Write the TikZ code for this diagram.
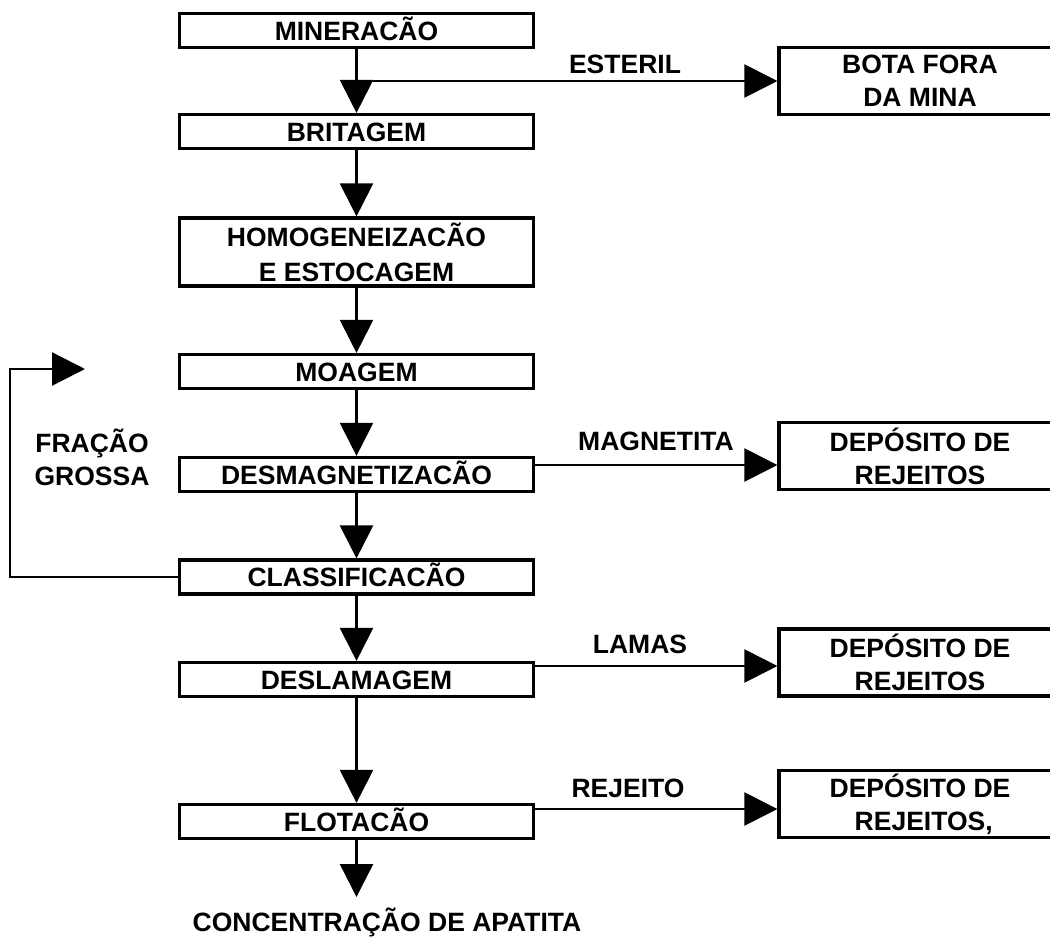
\documentclass[tikz,border=0pt]{standalone}
\usepackage{fontspec}
\setmainfont{Liberation Sans}
\usetikzlibrary{arrows.meta}

\tikzset{
  etapa/.style={draw, line width=3.2pt, minimum width=354pt, minimum height=34pt,
    inner sep=0pt, text height=19pt, text depth=0pt,
    font=\fontsize{26.5}{35}\selectfont\bfseries},
  destino/.style={draw, line width=3.2pt, minimum width=282pt, minimum height=67pt,
    inner sep=0pt, align=center, font=\fontsize{26.5}{33}\selectfont\bfseries},
  rotulo/.style={inner sep=0pt, align=center, font=\fontsize{26.5}{33}\selectfont\bfseries},
  fluxo/.style={line width=2.3pt, -{Triangle[length=33pt,width=33pt]}},
}

\begin{document}
\begin{tikzpicture}[x=1pt, y=-1pt]
  \useasboundingbox (0,0) rectangle (1050,937);
  \fill[white] (0,0) rectangle (1050,937);

  % linha principal do processo
  \node[etapa] (mine)   at (356.5,30.5)  {MINERACÃO};
  \node[etapa] (brit)   at (356.5,131.5) {BRITAGEM};
  \node[etapa, text height=, text depth=, align=center, minimum height=68pt]
               (homog)  at (356.5,252)   {HOMOGENEIZACÃO\\E ESTOCAGEM};
  \node[etapa] (moag)   at (356.5,371.5) {MOAGEM};
  \node[etapa] (desm)   at (356.5,474.5) {DESMAGNETIZACÃO};
  \node[etapa] (class)  at (356.5,577)   {CLASSIFICACÃO};
  \node[etapa] (deslam) at (356.5,679.5) {DESLAMAGEM};
  \node[etapa] (flot)   at (356.5,821.5) {FLOTACÃO};
  \node[rotulo] (conc)  at (387,922)     {CONCENTRAÇÃO DE APATITA};

  % destinos dos descartes
  \node[destino] (bota) at (920,81)    {BOTA FORA\\DA MINA};
  \node[destino] (dep1) at (920,456)   {DEPÓSITO DE\\REJEITOS};
  \node[destino] (dep2) at (920,662.5) {DEPÓSITO DE\\REJEITOS};
  \node[destino] (dep3) at (920,804)   {DEPÓSITO DE\\REJEITOS\rlap{,}};

  \node[rotulo] (est) at (625,64)  {ESTERIL};
  \node[rotulo] (mag) at (656,441) {MAGNETITA};
  \node[rotulo] (lam) at (640,644) {LAMAS};
  \node[rotulo] (rej) at (628,788) {REJEITO};
  \node[rotulo] (fra) at (92,457)  {FRAÇÃO\\GROSSA};

  \foreach \a/\b in {mine/brit, brit/homog, homog/moag, moag/desm,
                     desm/class, class/deslam, deslam/flot}
    \draw[fluxo] (\a) -- (\b);

  \coordinate (fim) at (356.5,897);
  \draw[fluxo] (flot) -- (fim);

  \draw[fluxo] (mine.south |- bota.west) -- (bota.west);
  \coordinate (s1) at ([yshift=9.5pt]desm.east);
  \coordinate (s2) at ([yshift=13.5pt]deslam.east);
  \coordinate (s3) at ([yshift=12.5pt]flot.east);
  \draw[fluxo] (s1) -- (s1 -| dep1.west);
  \draw[fluxo] (s2) -- (s2 -| dep2.west);
  \draw[fluxo] (s3) -- (s3 -| dep3.west);

  % retorno da fracao grossa
  \coordinate (volta) at (85,369);
  \draw[fluxo] (class.west) -- ++(-168,0) |- (volta);
\end{tikzpicture}
\end{document}
